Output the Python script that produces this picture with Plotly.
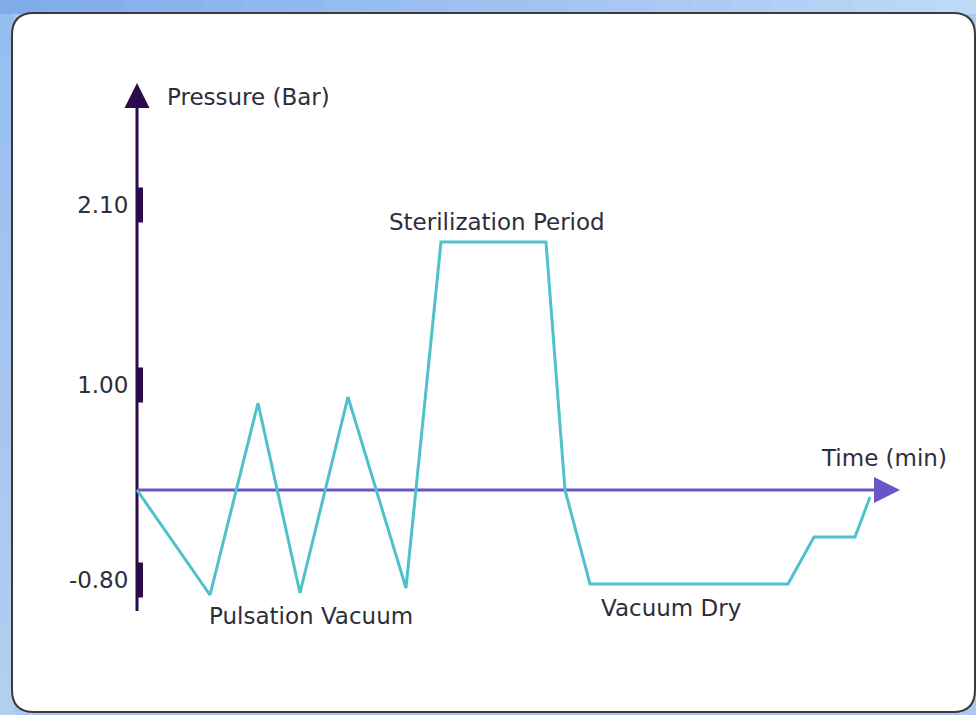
import plotly.graph_objects as go

W, H = 976, 715

# ---- data (schematic units: time in arbitrary minutes, pressure on display scale) ----
time_pts = [0, 7.3, 12.1, 16.3, 21.1, 26.9, 30.4, 40.9, 42.8, 45.3, 65.1, 67.7, 71.8, 73.3]
pressure_pts = [0, -1.05, 0.87, -1.03, 0.93, -0.98, 2.48, 2.48, 0, -0.94, -0.94, -0.47, -0.47, -0.07]

tick_pos = [2.85, 1.05, -0.90]
tick_labels = ["2.10", "1.00", "-0.80"]

phase_labels = ["Sterilization Period", "Pulsation Vacuum", "Vacuum Dry"]
axis_titles = ["Pressure (Bar)", "Time (min)"]

# axis ranges chosen so the plot area fills the whole figure
X_RANGE = [-13.7, 83.9]
Y_RANGE = [-2.25, 4.90]

Y_AXIS_COL = "#2b0b4a"
X_AXIS_COL = "#6a55c8"
LINE_COL = "#4fc1cb"
TEXT_COL = "#2e2e3a"
FONT = "DejaVu Sans"
FS = 23

fig = go.Figure()

# y axis line + arrow
fig.add_trace(go.Scatter(x=[0, 0], y=[-1.21, 4.0], mode="lines",
                         line=dict(color=Y_AXIS_COL, width=3), hoverinfo="skip"))
fig.add_trace(go.Scatter(x=[0], y=[4.07], mode="markers",
                         marker=dict(symbol="arrow-up", size=25, color=Y_AXIS_COL,
                                     line=dict(width=0)), hoverinfo="skip"))
# tick bars
fig.add_trace(go.Scatter(x=[0.3] * len(tick_pos), y=tick_pos, mode="markers",
                         marker=dict(symbol="line-ns", size=25,
                                     line=dict(width=6, color=Y_AXIS_COL)),
                         hoverinfo="skip"))
# x axis line + arrow
fig.add_trace(go.Scatter(x=[0, 75], y=[0, 0], mode="lines",
                         line=dict(color=X_AXIS_COL, width=3), hoverinfo="skip"))
fig.add_trace(go.Scatter(x=[76.3], y=[0], mode="markers",
                         marker=dict(symbol="arrow-right", size=26, color=X_AXIS_COL,
                                     line=dict(width=0)), hoverinfo="skip"))

# pressure curve
fig.add_trace(go.Scatter(x=time_pts, y=pressure_pts, mode="lines",
                         line=dict(color=LINE_COL, width=3)))

# ---- background (blue frame + white rounded panel) ----
def px(xp):
    return xp / W

def py(yp):
    return 1 - yp / H

shapes = []
# top gradient strip
n = 24
c0 = (128, 172, 236)
c1 = (190, 216, 247)
for i in range(n):
    t = i / (n - 1)
    c = tuple(int(c0[k] + (c1[k] - c0[k]) * t) for k in range(3))
    shapes.append(dict(type="rect", xref="paper", yref="paper",
                       x0=i / n, x1=(i + 1) / n + 0.002, y0=py(14), y1=1,
                       fillcolor="rgb(%d,%d,%d)" % c, line=dict(width=0), layer="below"))
# left strip gradient
m = 16
l0 = (150, 190, 240)
l1 = (180, 206, 240)
for i in range(m):
    t = i / (m - 1)
    c = tuple(int(l0[k] + (l1[k] - l0[k]) * t) for k in range(3))
    shapes.append(dict(type="rect", xref="paper", yref="paper",
                       x0=0, x1=px(14), y0=py(14 + (H - 14) * (i + 1) / m + 1),
                       y1=py(14 + (H - 14) * i / m),
                       fillcolor="rgb(%d,%d,%d)" % c, line=dict(width=0), layer="below"))

x0, x1, y0, y1, r = 12, 975, 13, 712, 22
path = (f"M {px(x0 + r)},{py(y0)} L {px(x1 - r)},{py(y0)} "
        f"Q {px(x1)},{py(y0)} {px(x1)},{py(y0 + r)} "
        f"L {px(x1)},{py(y1 - r)} Q {px(x1)},{py(y1)} {px(x1 - r)},{py(y1)} "
        f"L {px(x0 + r)},{py(y1)} Q {px(x0)},{py(y1)} {px(x0)},{py(y1 - r)} "
        f"L {px(x0)},{py(y0 + r)} Q {px(x0)},{py(y0)} {px(x0 + r)},{py(y0)} Z")
shapes.append(dict(type="path", xref="paper", yref="paper", path=path,
                   fillcolor="white", line=dict(color="#3a3a3a", width=2), layer="below"))

# ---- text ----
font = dict(family=FONT, size=FS, color=TEXT_COL)
annotations = [
    dict(x=2.8, y=3.93, text=axis_titles[0], xanchor="left", yanchor="middle"),
    dict(x=74.7, y=0.32, text=axis_titles[1], xanchor="center", yanchor="middle"),
    dict(x=35.95, y=2.68, text=phase_labels[0], xanchor="center", yanchor="middle"),
    dict(x=17.35, y=-1.26, text=phase_labels[1], xanchor="center", yanchor="middle"),
    dict(x=53.4, y=-1.18, text=phase_labels[2], xanchor="center", yanchor="middle"),
]
for a in annotations:
    a.update(xref="x", yref="y", showarrow=False, font=font)

fig.update_layout(
    width=W, height=H,
    margin=dict(l=0, r=0, t=0, b=0),
    paper_bgcolor="rgb(170,200,240)",
    plot_bgcolor="rgba(0,0,0,0)",
    showlegend=False,
    shapes=shapes,
    annotations=annotations,
    xaxis=dict(range=X_RANGE, visible=False, fixedrange=True),
    yaxis=dict(range=Y_RANGE, anchor="free", position=137 / W,
               tickvals=tick_pos, ticktext=tick_labels,
               showgrid=False, zeroline=False, showline=False,
               ticks="outside", ticklen=4, tickcolor="rgba(0,0,0,0)",
               tickfont=dict(family=FONT, size=FS, color=TEXT_COL),
               fixedrange=True, automargin=False),
)

fig.write_html("out.html", config={"displayModeBar": False},
               post_script="document.body.style.margin='0';document.body.style.overflow='hidden';")
